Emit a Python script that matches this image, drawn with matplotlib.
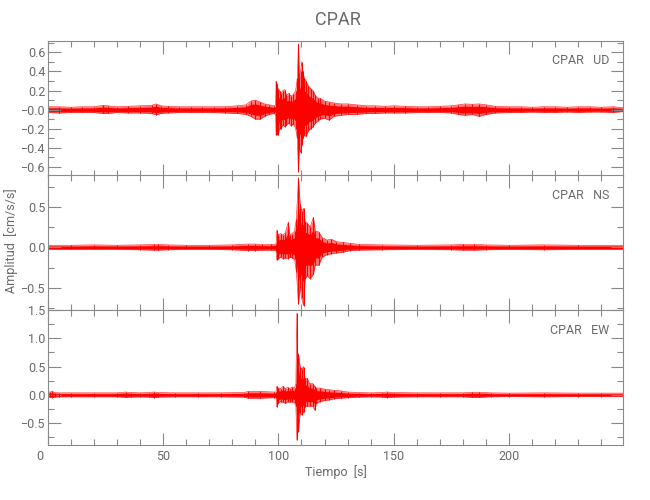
import matplotlib
matplotlib.use("Agg")
import matplotlib.pyplot as plt
from matplotlib.ticker import MultipleLocator, FixedLocator, FixedFormatter
from matplotlib.transforms import ScaledTranslation

plt.rcParams['font.family'] = ['Roboto', 'DejaVu Sans']

station = "CPAR"
components = ["UD", "NS", "EW"]

# ---- envelope of each trace (time s, upper, lower) ----
ud_t = [0, 5, 10, 15, 20, 24, 26, 30, 35, 40, 45, 47, 49, 52, 57, 62, 67, 72, 77, 82, 86, 88, 90, 92, 94, 96, 98,
        98.8, 99.0, 99.4, 99.8, 100.5, 101, 102, 102.8, 103.5, 104.5, 105.5, 106.5, 107.5, 108.2, 108.7, 109.1,
        109.6, 110.1, 110.6, 111.2, 112, 113, 114, 115, 116, 117, 118, 120, 122, 124, 127, 130, 134, 138, 142,
        146, 150, 155, 160, 165, 170, 175, 178, 181, 184, 187, 190, 194, 200, 205, 210, 215, 220, 225, 230, 235,
        240, 245, 249.6]
ud_hi = [0.03, 0.03, 0.025, 0.03, 0.03, 0.045, 0.04, 0.03, 0.035, 0.04, 0.045, 0.06, 0.04, 0.035, 0.03, 0.03, 0.03,
         0.03, 0.03, 0.04, 0.05, 0.09, 0.10, 0.08, 0.06, 0.05, 0.04,
         0.05, 0.30, 0.27, 0.22, 0.20, 0.17, 0.20, 0.21, 0.15, 0.17, 0.14, 0.16, 0.20, 0.33, 0.69, 0.35,
         0.40, 0.50, 0.40, 0.33, 0.30, 0.25, 0.22, 0.20, 0.15, 0.12, 0.12, 0.09, 0.08, 0.07, 0.06, 0.06, 0.05, 0.04, 0.04,
         0.035, 0.04, 0.035, 0.03, 0.03, 0.035, 0.04, 0.05, 0.06, 0.055, 0.06, 0.05, 0.035, 0.03, 0.03, 0.025, 0.03,
         0.03, 0.025, 0.03, 0.03, 0.025, 0.03, 0.02]
ud_lo = [-0.03, -0.035, -0.03, -0.03, -0.03, -0.04, -0.04, -0.03, -0.035, -0.035, -0.04, -0.055, -0.04, -0.035, -0.03,
         -0.03, -0.03, -0.03, -0.035, -0.04, -0.05, -0.07, -0.10, -0.10, -0.07, -0.05, -0.04,
         -0.05, -0.27, -0.25, -0.27, -0.20, -0.20, -0.16, -0.18, -0.16, -0.14, -0.17, -0.15, -0.20, -0.30, -0.65, -0.40,
         -0.45, -0.37, -0.30, -0.27, -0.28, -0.22, -0.20, -0.18, -0.14, -0.12, -0.10, -0.09, -0.11, -0.07, -0.06, -0.05,
         -0.05, -0.04, -0.04, -0.035, -0.035, -0.035, -0.03, -0.03, -0.03, -0.035, -0.05, -0.06, -0.05, -0.07, -0.05,
         -0.035, -0.03, -0.03, -0.025, -0.03, -0.03, -0.025, -0.03, -0.025, -0.025, -0.03, -0.02]

ns_t = [0, 10, 20, 30, 40, 46, 48, 52, 60, 70, 80, 87, 90, 93, 97, 99.0, 99.3, 100, 101, 102, 103, 104.3, 105, 106,
        107, 107.8, 108.7, 109.4, 110.1, 110.9, 111.6, 112.5, 113.8, 115.2, 116, 117.5, 119, 121, 123, 125, 128,
        131, 135, 145, 160, 175, 180, 185, 190, 200, 215, 230, 249.6]
ns_hi = [0.025, 0.025, 0.03, 0.025, 0.03, 0.035, 0.035, 0.03, 0.025, 0.025, 0.03, 0.04, 0.04, 0.035, 0.035, 0.04,
         0.21, 0.15, 0.17, 0.15, 0.18, 0.31, 0.15, 0.17,
         0.20, 0.35, 0.86, 0.54, 0.45, 0.48, 0.31, 0.30, 0.25, 0.37, 0.20, 0.19, 0.12, 0.09, 0.10, 0.07, 0.06,
         0.05, 0.035, 0.03, 0.025, 0.03, 0.035, 0.035, 0.03, 0.025, 0.03, 0.025, 0.025]
ns_lo = [-0.025, -0.025, -0.025, -0.025, -0.03, -0.035, -0.035, -0.03, -0.025, -0.025, -0.03, -0.04, -0.04, -0.035,
         -0.035, -0.04, -0.16, -0.14, -0.12, -0.14, -0.13, -0.14, -0.12, -0.13,
         -0.15, -0.30, -0.70, -0.50, -0.63, -0.72, -0.39, -0.35, -0.39, -0.33, -0.22, -0.22, -0.12, -0.09, -0.08,
         -0.07, -0.06, -0.04, -0.035, -0.03, -0.025, -0.03, -0.035, -0.035, -0.03, -0.025, -0.03, -0.025, -0.025]

ew_t = [0, 1, 2, 3, 5, 10, 20, 30, 34, 36, 40, 44, 46, 48, 55, 65, 75, 85, 87, 92, 98, 99.0, 99.3, 100, 101, 102,
        103, 104, 105, 106, 107, 107.6, 108.0, 108.4, 108.7, 109.4, 110.2, 110.9, 111.5, 112.5, 113.5, 115, 115.7,
        116.5, 118, 120, 122, 124, 127, 130, 135, 140, 145, 147, 150, 160, 170, 180, 184, 187, 192, 200, 215, 230,
        240, 249.6]
ew_hi = [0.035, 0.05, 0.06, 0.04, 0.035, 0.035, 0.035, 0.035, 0.05, 0.04, 0.035, 0.04, 0.05, 0.04, 0.035, 0.035,
         0.035, 0.04, 0.06, 0.06, 0.05, 0.05,
         0.15, 0.12, 0.11, 0.15, 0.11, 0.13, 0.11, 0.14, 0.12, 0.20, 1.44, 0.50, 0.73, 0.50, 0.45, 0.50, 0.29, 0.29,
         0.20, 0.20, 0.15, 0.12, 0.12, 0.10, 0.09, 0.08, 0.07, 0.05, 0.04, 0.035, 0.04, 0.05, 0.04, 0.035, 0.035,
         0.035, 0.045, 0.045, 0.035, 0.03, 0.035, 0.03, 0.03, 0.03]
ew_lo = [-0.035, -0.045, -0.05, -0.04, -0.035, -0.035, -0.035, -0.035, -0.045, -0.04, -0.035, -0.04, -0.05, -0.04,
         -0.035, -0.035, -0.035, -0.04, -0.06, -0.06, -0.05, -0.05,
         -0.21, -0.14, -0.12, -0.13, -0.15, -0.12, -0.13, -0.12, -0.14, -0.20, -0.80, -0.50, -0.65, -0.33, -0.35,
         -0.30, -0.21, -0.20, -0.20, -0.20, -0.27, -0.15, -0.12, -0.10, -0.09, -0.07, -0.06, -0.05, -0.04, -0.035,
         -0.04, -0.05, -0.04, -0.035, -0.035, -0.035, -0.045, -0.045, -0.035, -0.03, -0.035, -0.03, -0.03, -0.03]

traces = [(ud_t, ud_hi, ud_lo), (ns_t, ns_hi, ns_lo), (ew_t, ew_hi, ew_lo)]

ylims = [(-0.692, 0.722), (-0.774, 0.893), (-0.887, 1.5)]
y_major = [[-0.6, -0.4, -0.2, 0.0, 0.2, 0.4, 0.6], [-0.5, 0.0, 0.5], [-0.5, 0.0, 0.5, 1.0, 1.5]]
y_labels = [["\u22120.6", "\u22120.4", "\u22120.2", "\u22120.0", "0.2", "0.4", "0.6"],
            ["\u22120.5", "0.0", "0.5"],
            ["\u22120.5", "0.0", "0.5", "1.0", "1.5"]]
y_minor = [0.1, 0.25, 0.25]
x_major = [0, 50, 100, 150, 200]
x_labels = ["0", "50", "100", "150", "200"]

GRAY = "#8a8a8a"
TXT = "#6a6a6a"
RED = "#ff0000"

fig = plt.figure(figsize=(6.5, 5.0), dpi=100)
left, width = 47.7 / 650, (623.5 - 47.7) / 650
tops = [40.7, 175.0, 310.0]
h = 135.0

for i, (comp, (t, hi, lo)) in enumerate(zip(components, traces)):
    ax = fig.add_axes([left, 1 - (tops[i] + h) / 500, width, h / 500])
    ax.fill_between(t, lo, hi, color=RED, alpha=0.55, lw=0)
    ax.fill_between(t, [v * 0.6 for v in lo], [v * 0.6 for v in hi], color=RED, lw=0)
    ax.vlines(t, lo, hi, color=RED, lw=0.7)
    ax.plot(t, hi, color=RED, lw=0.5, alpha=0.8)
    ax.plot(t, lo, color=RED, lw=0.5, alpha=0.8)
    ax.set_xlim(0, 249.6)
    ax.set_ylim(*ylims[i])
    ax.xaxis.set_major_locator(FixedLocator(x_major))
    ax.xaxis.set_minor_locator(MultipleLocator(10))
    ax.yaxis.set_major_locator(FixedLocator(y_major[i]))
    ax.yaxis.set_major_formatter(FixedFormatter(y_labels[i]))
    ax.yaxis.set_minor_locator(MultipleLocator(y_minor[i]))
    if i == 2:
        ax.xaxis.set_major_formatter(FixedFormatter(x_labels))
    else:
        ax.set_xticklabels([])
    ax.tick_params(which='both', direction='in', top=True, right=True, color=GRAY,
                   labelcolor=TXT, labelsize=9, width=0.8)
    ax.tick_params(which='major', length=9)
    ax.tick_params(which='minor', length=4.5)
    ax.tick_params(axis='x', pad=3.5)
    ax.tick_params(axis='y', pad=1.5)
    for s in ax.spines.values():
        s.set_color(GRAY)
        s.set_linewidth(0.8)
    ax.text(0.975, 0.85, f"{station}   {comp}", transform=ax.transAxes, ha='right', va='center',
            fontsize=9, color=TXT)
    if i == 2:
        fig.canvas.draw()
        lab0 = ax.get_xticklabels()[0]
        lab0.set_transform(lab0.get_transform() + ScaledTranslation(-6 / 72, 0, fig.dpi_scale_trans))

fig.text(338 / 650, 1 - 20 / 500, station, ha='center', va='center', fontsize=13, color=TXT)
fig.text(11 / 650, 1 - 241 / 500, "Amplitud  [cm/s/s]", rotation=90, ha='center', va='center',
         fontsize=9, color=TXT)
fig.text(336 / 650, 1 - 472 / 500, "Tiempo  [s]", ha='center', va='center', fontsize=9, color=TXT)

fig.savefig("out.png", dpi=100)
